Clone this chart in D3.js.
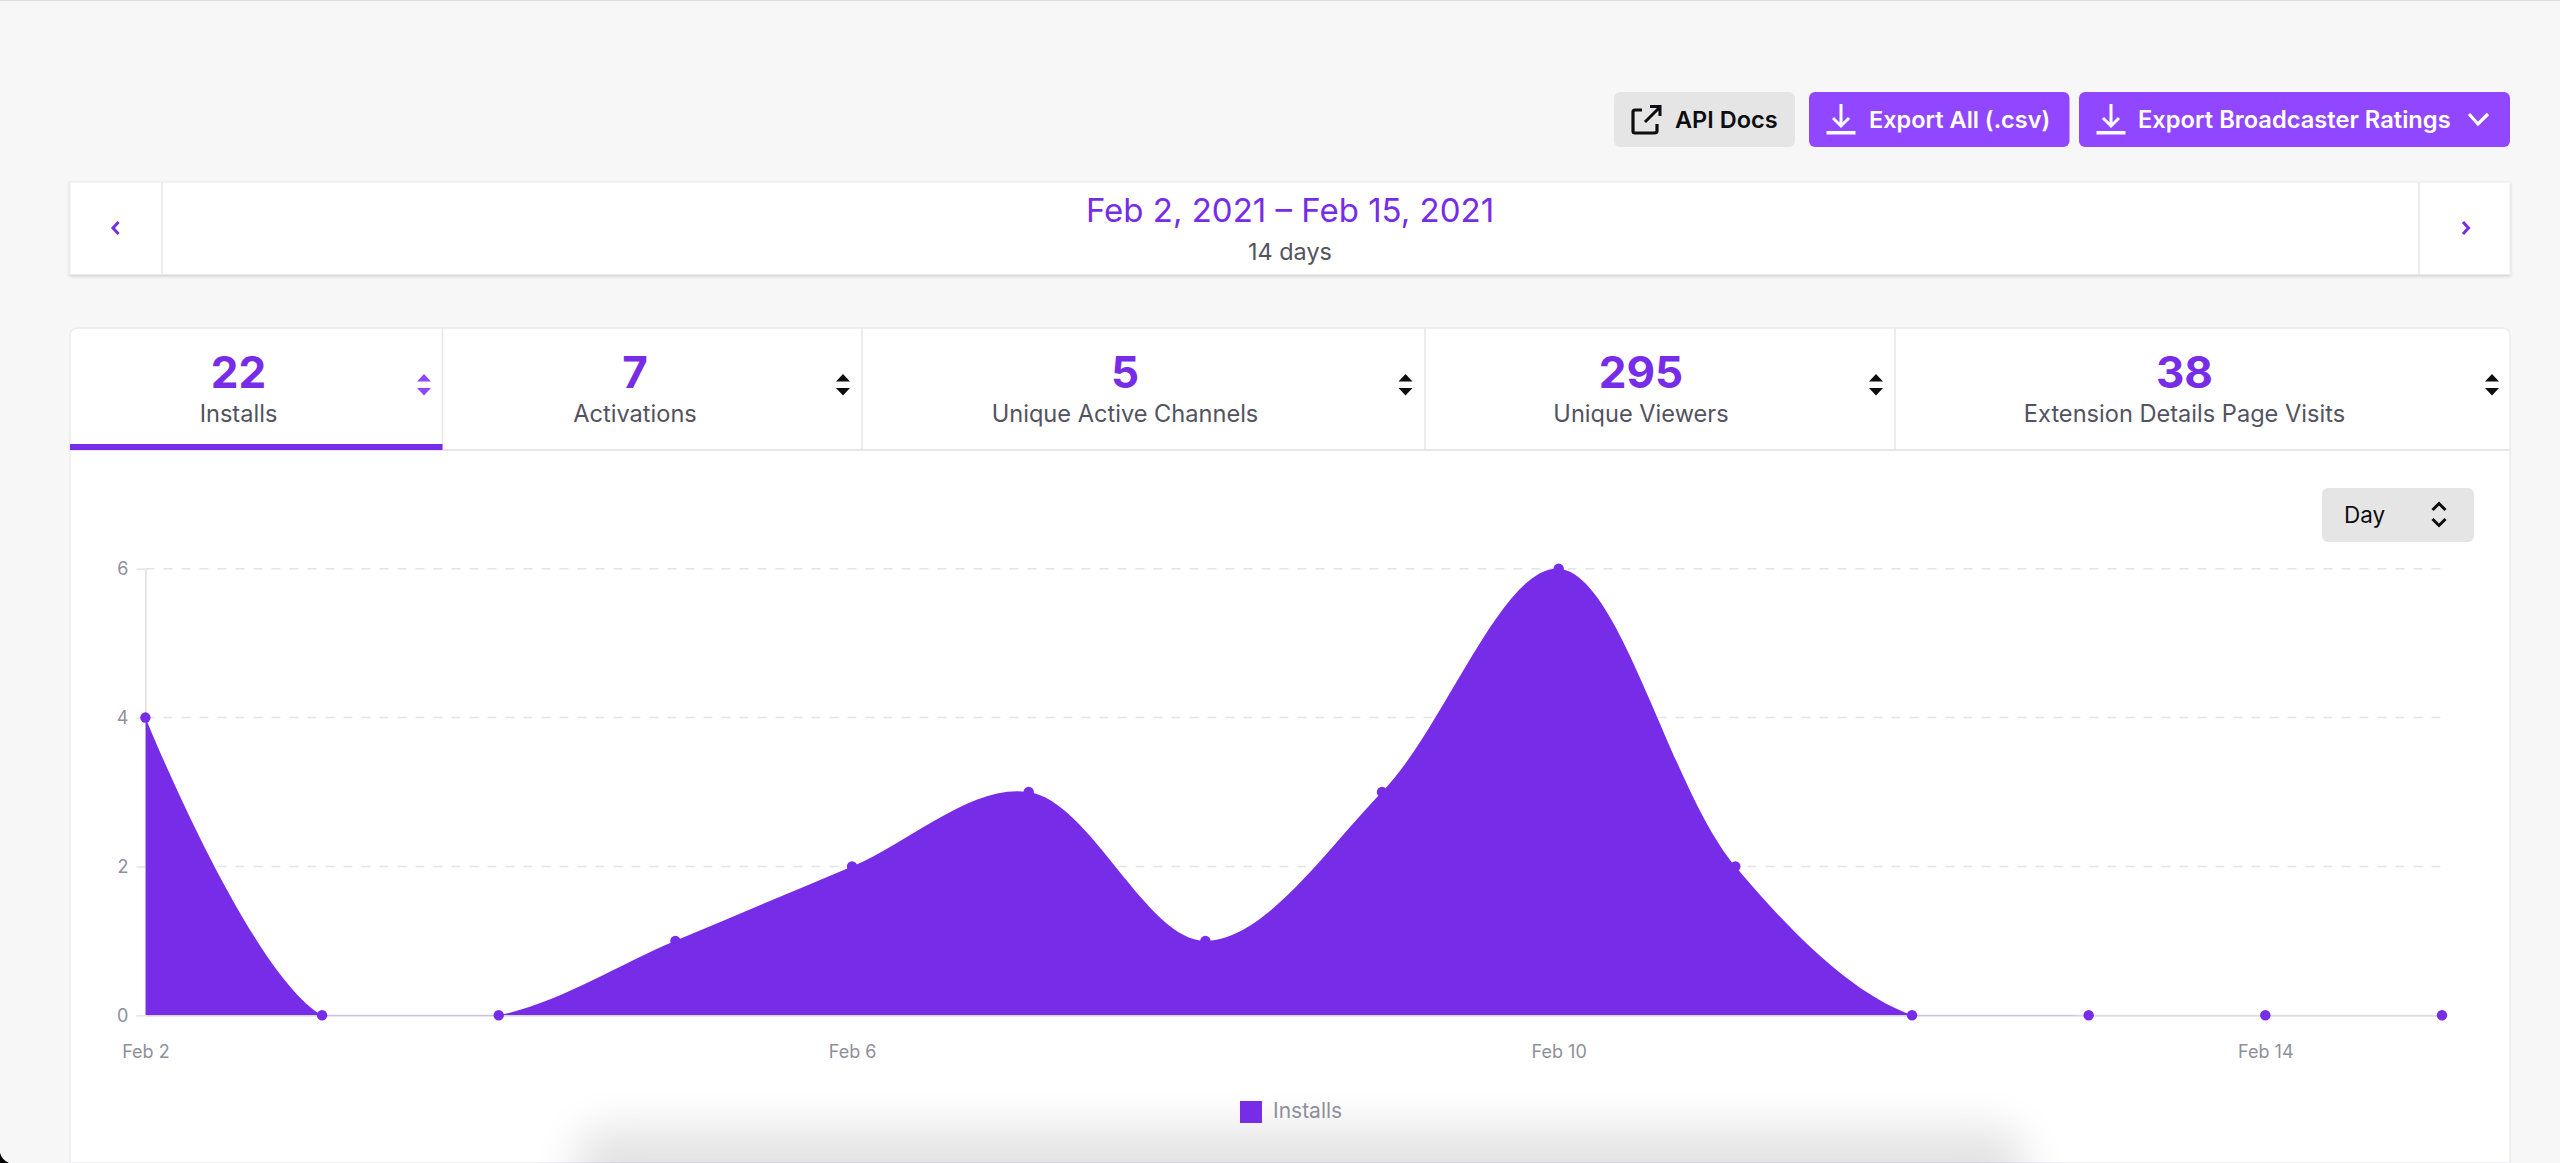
<!DOCTYPE html>
<html>
<head>
<meta charset="utf-8">
<title>Installs</title>
<script src="https://cdn.jsdelivr.net/npm/d3@7"></script>
<style>
html, body { margin: 0; padding: 0; background: #f7f7f8; overflow: hidden; }
svg { display: block; font-family: Inter, "Noto Sans", sans-serif; }
</style>
</head>
<body>
<svg id="svg0" width="2560" height="1163"></svg>
<script>
// chart data
var dayLabels = ['2021-02-02','2021-02-03','2021-02-04','2021-02-05','2021-02-06','2021-02-07','2021-02-08',
                 '2021-02-09','2021-02-10','2021-02-11','2021-02-12','2021-02-13','2021-02-14','2021-02-15'];
var installs = [4,0,0,1,2,3,1,3,6,2,0,0,0,0];
var yTicks = [0,2,4,6];
var xTickDays = ['2021-02-02','2021-02-06','2021-02-10','2021-02-14'];

// summary tabs
var tabValues = ['22','7','5','295','38'];
var tabNames = ['Installs','Activations','Unique Active Channels','Unique Viewers','Extension Details Page Visits'];

var purple = '#772ce8';
var buttonPurple = '#9147ff';
var border = '#e6e6ea';

var svg = d3.select('#svg0');
var defs = svg.append('defs');

defs.append('filter').attr('id', 'blur').attr('x', '-20%').attr('y', '-200%').attr('width', '140%').attr('height', '500%')
    .append('feGaussianBlur').attr('stdDeviation', 22);
defs.append('filter').attr('id', 'soft').attr('x', '-2%').attr('y', '-20%').attr('width', '104%').attr('height', '140%')
    .append('feDropShadow').attr('dx', 0).attr('dy', 1.5).attr('stdDeviation', 1.5)
    .attr('flood-color', '#000').attr('flood-opacity', 0.16);

svg.append('rect').attr('width', 2560).attr('height', 1163).attr('fill', '#f7f7f8');
svg.append('line').attr('x1', 0).attr('x2', 2560).attr('y1', 0.5).attr('y2', 0.5).attr('stroke', '#dcdcdc');

// ---- top buttons
function button(x0, x1, fill) {
    svg.append('rect').attr('x', x0).attr('y', 92).attr('width', x1 - x0).attr('height', 55)
        .attr('rx', 6).attr('fill', fill);
}
function label(x, y, text, size, weight, fill, anchor) {
    return svg.append('text').attr('x', x).attr('y', y).text(text)
        .attr('font-size', size).attr('font-weight', weight).attr('fill', fill)
        .attr('text-anchor', anchor || 'start');
}
function downloadIcon(x) {
    svg.append('path').attr('d', 'M' + x + ' 104V125M' + (x - 8) + ' 118L' + x + ' 126L' + (x + 8) + ' 118')
        .attr('fill', 'none').attr('stroke', '#fff').attr('stroke-width', 3);
    svg.append('rect').attr('x', x - 14.5).attr('y', 131).attr('width', 29).attr('height', 3.5).attr('fill', '#fff');
}

button(1614, 1795, '#e5e5e5');
svg.append('path')
    .attr('d', 'M1642 110H1635Q1633 110 1633 112V131Q1633 133 1635 133H1654Q1657 133 1657 131V124')
    .attr('fill', 'none').attr('stroke', '#0e0e10').attr('stroke-width', 3.2);
svg.append('path').attr('d', 'M1645 122L1659 108M1650 106.5H1660V116')
    .attr('fill', 'none').attr('stroke', '#0e0e10').attr('stroke-width', 3);
label(1675, 128, 'API Docs', 23.5, 600, '#0e0e10');

button(1809, 2069.5, buttonPurple);
downloadIcon(1841);
label(1869, 128, 'Export All (.csv)', 23.5, 600, '#fff');

button(2079, 2510, buttonPurple);
downloadIcon(2111);
label(2138, 128, 'Export Broadcaster Ratings', 23.7, 600, '#fff');
svg.append('path').attr('d', 'M2469 114L2478 124L2488 114')
    .attr('fill', 'none').attr('stroke', '#fff').attr('stroke-width', 3.2);

// ---- date range bar
svg.append('rect').attr('x', 70).attr('y', 182).attr('width', 2440).attr('height', 92.5)
    .attr('fill', '#fff').attr('stroke', '#ececee').attr('filter', 'url(#soft)');
[162, 2419].forEach(function (x) {
    svg.append('line').attr('x1', x).attr('x2', x).attr('y1', 182).attr('y2', 274.5).attr('stroke', border).attr('stroke-width', 1.5);
});
label(1290, 222, 'Feb 2, 2021 – Feb 15, 2021', 33, 400, purple, 'middle');
label(1290, 259.5, '14 days', 23.4, 400, '#53535f', 'middle');
svg.append('path').attr('d', 'M118.5 222L113 228L118.5 234').attr('fill', 'none').attr('stroke', purple).attr('stroke-width', 3);
svg.append('path').attr('d', 'M2463 222L2468.5 228L2463 234').attr('fill', 'none').attr('stroke', purple).attr('stroke-width', 3);

// ---- main card
svg.append('path').attr('d', 'M70 1163V336Q70 328 78 328H2502Q2510 328 2510 336V1163Z')
    .attr('fill', '#fff').attr('stroke', '#ececee').attr('stroke-width', 1.5);

var tabEdges = [442.5, 862, 1425, 1895];
var tabCenters = [238.5, 635, 1125, 1641, 2184.5];
var sortX = [424, 843, 1405.5, 1876, 2492];

tabEdges.forEach(function (x) {
    svg.append('line').attr('x1', x).attr('x2', x).attr('y1', 328).attr('y2', 450).attr('stroke', border).attr('stroke-width', 1.5);
});
svg.append('line').attr('x1', 70).attr('x2', 2510).attr('y1', 450).attr('y2', 450).attr('stroke', border).attr('stroke-width', 2);
svg.append('rect').attr('x', 70).attr('y', 444).attr('width', 372.5).attr('height', 6).attr('fill', purple);

tabValues.forEach(function (v, i) {
    label(tabCenters[i], 388, v, 44, 700, purple, 'middle');
    label(tabCenters[i], 422, tabNames[i], 23.6, 400, '#53535f', 'middle');
    var sx = sortX[i];
    svg.append('path')
        .attr('d', 'M' + (sx - 7) + ' 381.5L' + sx + ' 374L' + (sx + 7) + ' 381.5ZM' + (sx - 7) + ' 388L' + sx + ' 395.5L' + (sx + 7) + ' 388Z')
        .attr('fill', i === 0 ? buttonPurple : '#0e0e10');
});

// ---- day select
svg.append('rect').attr('x', 2322).attr('y', 488).attr('width', 152).attr('height', 54).attr('rx', 6).attr('fill', '#e5e5e5');
label(2344, 523, 'Day', 22.5, 400, '#0e0e10');
svg.append('path').attr('d', 'M2432.5 510L2439 503.5L2445.5 510M2432.5 519L2439 525.5L2445.5 519')
    .attr('fill', 'none').attr('stroke', '#0e0e10').attr('stroke-width', 3);

// ---- chart
var parseDay = d3.utcParse('%Y-%m-%d');
var days = dayLabels.map(parseDay);

var x = d3.scaleUtc()
    .domain(d3.extent(days))
    .range([145.4, 2442]);

var y = d3.scaleLinear()
    .domain([0, 6])
    .range([1015.3, 568.7]);

var grid = svg.append('g').attr('class', 'grid');
grid.selectAll('line')
    .data(yTicks.filter(function (d) { return d > 0; }))
    .enter()
    .append('line')
    .attr('x1', x.range()[0])
    .attr('x2', x.range()[1])
    .attr('y1', function (d) { return y(d); })
    .attr('y2', function (d) { return y(d); })
    .attr('stroke', '#e4e4e8')
    .attr('stroke-width', 1.5)
    .attr('stroke-dasharray', '9 9');

var xAxis = svg.append('g')
    .attr('transform', 'translate(0,' + y(0) + ')')
    .call(d3.axisBottom(x)
        .tickValues(xTickDays.map(parseDay))
        .tickFormat(d3.utcFormat('%b %-d'))
        .tickSize(0)
        .tickPadding(30));
xAxis.select('.domain').attr('stroke', '#dfdfe3').attr('stroke-width', 2);
xAxis.selectAll('text').attr('font-size', 18).attr('font-family', 'Inter').attr('fill', '#8f8f9c');

var yAxis = svg.append('g')
    .attr('transform', 'translate(' + x.range()[0] + ',0)')
    .call(d3.axisLeft(y)
        .tickValues(yTicks)
        .tickFormat(d3.format('d'))
        .tickSize(9)
        .tickSizeOuter(0)
        .tickPadding(8));
yAxis.select('.domain').attr('stroke', '#dfdfe3').attr('stroke-width', 1.5);
yAxis.selectAll('line').attr('stroke', '#e4e4e8').attr('stroke-width', 1.5);
yAxis.selectAll('text').attr('font-size', 18).attr('font-family', 'Inter').attr('fill', '#8f8f9c');

// the curve dips under zero between flat days, the plot area cuts that off
defs.append('clipPath').attr('id', 'plot')
    .append('rect')
    .attr('x', x.range()[0])
    .attr('y', y(6) - 20)
    .attr('width', x.range()[1] - x.range()[0])
    .attr('height', y(0) - y(6) + 20);

var area = d3.area()
    .x(function (d, i) { return x(days[i]); })
    .y0(y(0))
    .y1(function (d) { return y(d); })
    .curve(d3.curveCatmullRom.alpha(0.5));

svg.append('path')
    .datum(installs)
    .attr('d', area)
    .attr('clip-path', 'url(#plot)')
    .attr('fill', purple);

svg.selectAll('circle.point')
    .data(installs)
    .enter()
    .append('circle')
    .attr('class', 'point')
    .attr('cx', function (d, i) { return x(days[i]); })
    .attr('cy', function (d) { return y(d); })
    .attr('r', 5.2)
    .attr('fill', purple);

// ---- shadow of the window below
svg.append('rect').attr('x', 575).attr('y', 1128).attr('width', 1450).attr('height', 140).attr('rx', 30)
    .attr('fill', '#000').attr('opacity', 0.11).attr('filter', 'url(#blur)');

// ---- legend
svg.append('rect').attr('x', 1240).attr('y', 1101).attr('width', 22).attr('height', 22).attr('fill', purple);
label(1273, 1117.5, 'Installs', 21, 400, '#8f8f9c');

// screen corner
svg.append('path').attr('d', 'M0 1153Q2 1160 9 1163H0Z').attr('fill', '#000');
</script>
</body>
</html>
